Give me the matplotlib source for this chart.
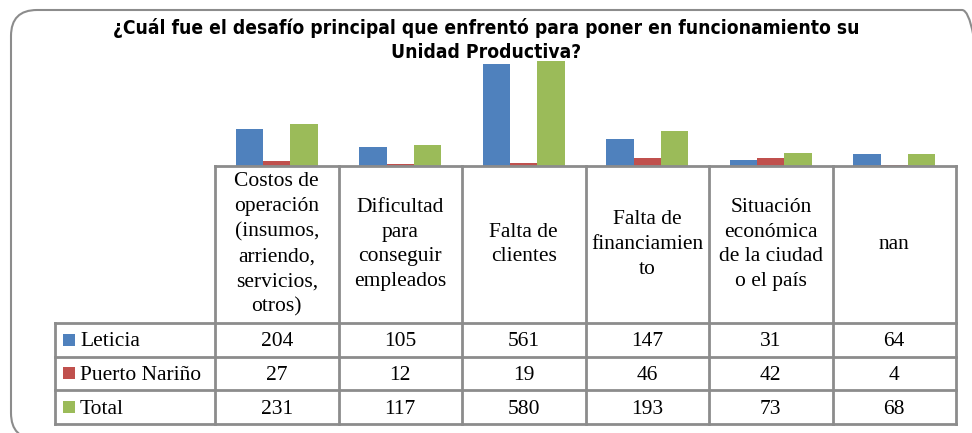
import matplotlib.pyplot as plt
from matplotlib.patches import Rectangle, FancyBboxPatch
import numpy as np

# data
categories = ['Costos de\noperación\n(insumos,\narriendo,\nservicios,\notros)',
              'Dificultad\npara\nconseguir\nempleados',
              'Falta de\nclientes',
              'Falta de\nfinanciamien\nto',
              'Situación\neconómica\nde la ciudad\no el país',
              'nan']
series_names = ['Leticia', 'Puerto Nariño', 'Total']
leticia = [204, 105, 561, 147, 31, 64]
puerto_narino = [27, 12, 19, 46, 42, 4]
total = [231, 117, 580, 193, 73, 68]
colors = ['#4F81BD', '#C0504D', '#9BBB59']
title = '¿Cuál fue el desafío principal que enfrentó para poner en funcionamiento su\nUnidad Productiva?'

W, H = 972, 433
fig = plt.figure(figsize=(W / 100, H / 100), dpi=100)


def px_rect(x0, y0, x1, y1):
    """Figure-fraction rect from pixel box (y measured from top)."""
    return [x0 / W, 1 - y1 / H, (x1 - x0) / W, (y1 - y0) / H]


# rounded chart border, drawn on a full-figure pixel canvas
bg = fig.add_axes([0, 0, 1, 1], zorder=-1)
bg.set_xlim(0, W)
bg.set_ylim(0, H)
bg.axis('off')
bg.add_patch(FancyBboxPatch((11, H - 439), 988 - 11, 439 - 10,
                            boxstyle='round,pad=0,rounding_size=26',
                            facecolor='none', edgecolor='#8c8c8c', linewidth=1.5,
                            clip_on=False))

fig.text(486 / W, 1 - 40 / H, title, ha='center', va='center',
         fontsize=13.8, fontweight='bold', fontstretch='condensed',
         family='DejaVu Sans', linespacing=1.3)

# bars
col_left, col_right = 215, 956
ax = fig.add_axes(px_rect(col_left, 57, col_right, 166))
x = np.arange(len(categories))
width = 0.22
for i, (vals, c) in enumerate(zip([leticia, puerto_narino, total], colors)):
    ax.bar(x + (i - 1) * width, vals, width, color=c, edgecolor='none')
ax.set_xlim(-0.5, len(categories) - 0.5)
ax.set_ylim(0, 600)
ax.axis('off')

# data table
label_left = 55
cell_w = (col_right - col_left) / len(categories)
label_w = (col_left - label_left) / cell_w
row_edges = [166, 323, 357, 390, 424]
tab = fig.add_axes(px_rect(label_left, row_edges[0], col_right, row_edges[-1]))
tab.set_xlim(-0.5 - label_w, len(categories) - 0.5)
tab.set_ylim(row_edges[-1], row_edges[0])
tab.axis('off')

grid_kw = dict(color='#8c8c8c', linewidth=2, solid_capstyle='projecting', clip_on=False)
# horizontal lines
tab.plot([-0.5, len(categories) - 0.5], [row_edges[0]] * 2, **grid_kw)
for y in row_edges[1:]:
    tab.plot([-0.5 - label_w, len(categories) - 0.5], [y, y], **grid_kw)
# vertical lines
for xv in np.arange(len(categories) + 1) - 0.5:
    tab.plot([xv, xv], [row_edges[0], row_edges[-1]], **grid_kw)
tab.plot([-0.5 - label_w] * 2, [row_edges[1], row_edges[-1]], **grid_kw)

font = dict(family=['Liberation Serif', 'DejaVu Serif'], fontsize=15.5, color='black')
for i, cat in enumerate(categories):
    tab.text(i, (row_edges[0] + row_edges[1]) / 2, cat, ha='center', va='center',
             linespacing=1.42, **font)
sw = 12 / cell_w
for r, (name, vals, c) in enumerate(zip(series_names, [leticia, puerto_narino, total], colors)):
    yc = (row_edges[r + 1] + row_edges[r + 2]) / 2
    tab.add_patch(Rectangle((-0.5 - label_w + 8 / cell_w, yc - 6), sw, 12,
                            facecolor=c, edgecolor='none'))
    tab.text(-0.5 - label_w + 25 / cell_w, yc + 2, name, ha='left', va='center', **font)
    for i, v in enumerate(vals):
        tab.text(i, yc + 2, str(v), ha='center', va='center', **font)

fig.savefig('out.png', dpi=100)
